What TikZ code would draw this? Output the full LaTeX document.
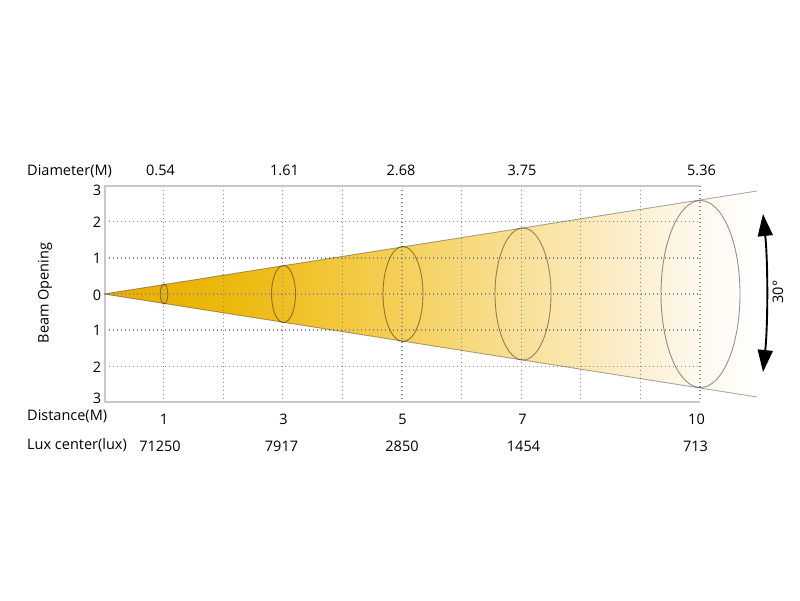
\documentclass[tikz,border=0pt]{standalone}
\usepackage{fontspec}
\setmainfont{Open Sans}
\usetikzlibrary{arrows.meta}
\definecolor{g0}{HTML}{E8AE00}
\definecolor{g1}{HTML}{ECB80C}
\definecolor{g2}{HTML}{EFBF22}
\definecolor{g3}{HTML}{F3C83E}
\definecolor{g4}{HTML}{F5D05A}
\definecolor{g5}{HTML}{F9E099}
\definecolor{g6}{HTML}{FCF0D2}
\definecolor{g7}{HTML}{FEF9EE}
\definecolor{axisgray}{HTML}{C8C8C8}
\definecolor{gridgray}{HTML}{8A8A8A}
\pgfdeclarehorizontalshading{beamshade}{100bp}{color(0bp)=(g0); color(25bp)=(g0); color(34bp)=(g1); color(38.7bp)=(g2); color(43.3bp)=(g3); color(47.9bp)=(g4); color(57.1bp)=(g5); color(66bp)=(g6); color(70.6bp)=(g7); color(75bp)=(white); color(100bp)=(white)}
\tikzset{
  lbl/.style={font=\fontsize{14.5}{16}\selectfont, inner sep=0pt, anchor=center},
  gridline/.style={draw=gridgray, line width=1.35pt, dash pattern=on 1.35pt off 2.65pt},
  axisline/.style={draw=axisgray, line width=1.2pt},
  beamedge/.style={draw=black, draw opacity=0.33, line width=0.9pt},
  spot/.style={draw=black, draw opacity=0.42, line width=0.9pt},
  bigarrow/.style={line width=1.9pt, {Triangle[length=22pt,width=15pt]}-{Triangle[length=22pt,width=15pt]}}
}
\begin{document}
\begin{tikzpicture}[x=1pt,y=-1pt]
\useasboundingbox[fill=white] (0,0) rectangle (800,600);
% beam geometry
\coordinate (apex) at (104,294);
\coordinate (up) at (757,191);
\coordinate (lo) at (757,397);
\shade[shading=beamshade] (apex) -- (up) -- (lo) -- cycle;
% grid
\foreach \k in {1,...,10}{
  \draw[gridline] ({104+59.6*\k},186) -- ({104+59.6*\k},402);
}
\foreach \yy in {221.75,258,294,330,366.25}{
  \draw[gridline] (105,\yy) -- (700,\yy);
}
% axes
\coordinate (tl) at (105,186);
\coordinate (tr) at (700,186);
\coordinate (bl) at (105,402);
\coordinate (br) at (700,402);
\draw[axisline] (tr) -- (tl) -- (bl) -- (br);
% beam edges
\draw[beamedge] (apex) -- (up);
\draw[beamedge] (apex) -- (lo);
% spots
\draw[spot] (164,294) ellipse [x radius=3.8, y radius=10];
\draw[spot] (283.5,294) ellipse [x radius=12, y radius=28.5];
\draw[spot] (403,294) ellipse [x radius=20, y radius=47.5];
\draw[spot] (523,294) ellipse [x radius=28, y radius=66];
\draw[spot] (700.5,294) ellipse [x radius=39.5, y radius=93.5];
% top labels
\node[lbl, anchor=west] (diam) at (27,171) {Diameter(M)};
\node[lbl] (d1) at (160.5,170) {0.54};
\node[lbl] (d2) at (284.5,170) {1.61};
\node[lbl] (d3) at (401,170) {2.68};
\node[lbl] (d4) at (522,170) {3.75};
\node[lbl] (d5) at (701.5,170) {5.36};
% y ticks
\node[lbl] (y3a) at (97,190) {3};
\node[lbl] (y2a) at (97,222) {2};
\node[lbl] (y1a) at (97,258) {1};
\node[lbl] (y0) at (97,295) {0};
\node[lbl] (y1b) at (97,330) {1};
\node[lbl] (y2b) at (97,367) {2};
\node[lbl] (y3b) at (97,398) {3};
\node[lbl, rotate=90] (beamop) at (45,293) {Beam Opening};
% bottom labels
\node[lbl, anchor=west] (dist) at (27,416) {Distance(M)};
\node[lbl] (x1) at (164,419) {1};
\node[lbl] (x3) at (283.5,419) {3};
\node[lbl] (x5) at (402.5,419) {5};
\node[lbl] (x7) at (522.5,419) {7};
\node[lbl] (x10) at (696.5,419) {10};
\node[lbl, anchor=west] (lux) at (27,445) {Lux center(lux)};
\node[lbl] (l1) at (160,446) {71250};
\node[lbl] (l3) at (281.5,446) {7917};
\node[lbl] (l5) at (402,446) {2850};
\node[lbl] (l7) at (523.5,446) {1454};
\node[lbl] (l10) at (695.5,446) {713};
% angle arrow
\coordinate (atop) at (763,214);
\coordinate (abot) at (763,372);
\draw[bigarrow] (atop) .. controls (768,262) and (768,324) .. (abot);
\node[lbl, rotate=90] (ang) at (778,292) {30°};
\end{tikzpicture}
\end{document}
